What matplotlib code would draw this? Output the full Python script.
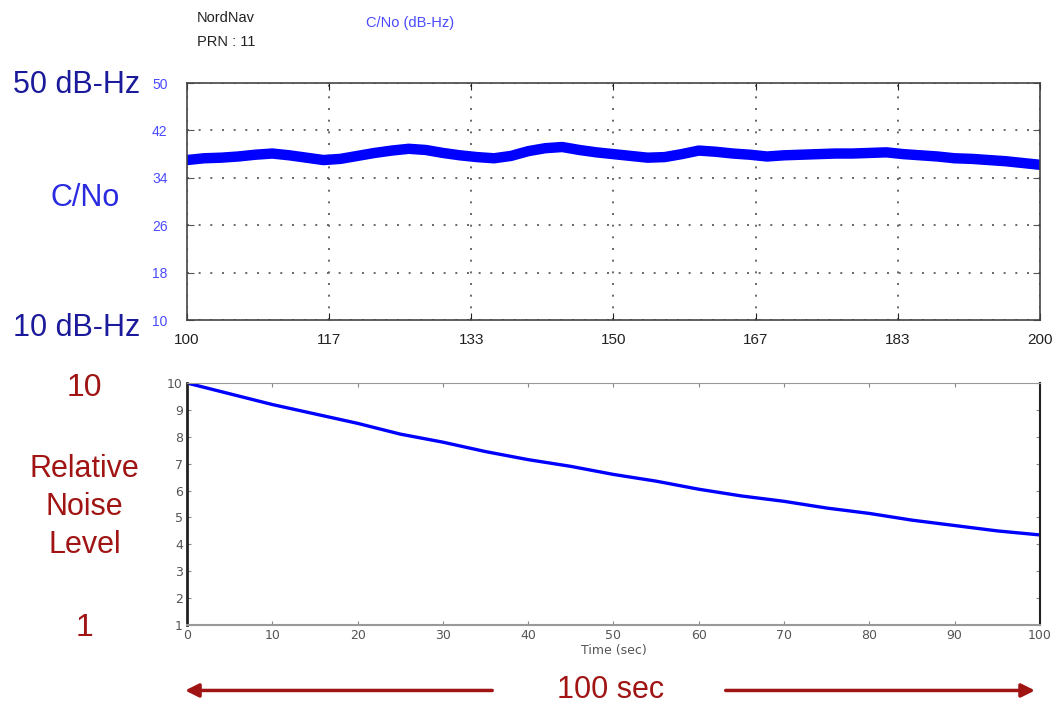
import numpy as np
import matplotlib
matplotlib.use('Agg')
import matplotlib.pyplot as plt

plt.rcParams['font.family'] = ['Liberation Sans', 'DejaVu Sans']

# C/No trace (time in sec, dB-Hz)
cno_time = np.arange(100, 201, 2)
cno_values = [37.0, 37.3, 37.4, 37.6, 37.9, 38.1, 37.8, 37.4, 37.0, 37.2,
              37.7, 38.2, 38.6, 38.9, 38.7, 38.2, 37.8, 37.5, 37.3, 37.7,
              38.5, 39.0, 39.2, 38.7, 38.3, 38.0, 37.7, 37.4, 37.5, 38.0,
              38.6, 38.4, 38.1, 37.9, 37.6, 37.8, 37.9, 38.0, 38.1, 38.1,
              38.2, 38.3, 38.0, 37.8, 37.6, 37.3, 37.2, 37.0, 36.8, 36.5,
              36.2]
cno_ticks = [100, 116.67, 133.33, 150, 166.67, 183.33, 200]
cno_tick_labels = ['100', '117', '133', '150', '167', '183', '200']
cno_yticks = [10, 18, 26, 34, 42, 50]

# relative noise level
noise_time = np.arange(0, 101, 5)
noise_values = [10.0, 9.6, 9.2, 8.85, 8.5, 8.1, 7.8, 7.45, 7.15, 6.9, 6.6,
                6.35, 6.05, 5.8, 5.6, 5.35, 5.15, 4.9, 4.7, 4.5, 4.35]

fig = plt.figure(figsize=(10.6, 7.06), dpi=100)

# ---- top panel ----
ax1 = fig.add_axes([0.1764, 0.5467, 0.8047, 0.3357])
ax1.plot(cno_time, cno_values, color='#0000ff', lw=7.5, solid_capstyle='round')
ax1.set_xlim(100, 200)
ax1.set_ylim(10, 50)
ax1.set_xticks(cno_ticks)
ax1.set_xticklabels(cno_tick_labels)
ax1.set_yticks(cno_yticks)
ax1.grid(True, color='#666666', linestyle=(0, (1, 5)), lw=1.4)
ax1.tick_params(axis='x', direction='in', length=5, labelsize=11, pad=9,
                colors='#222222', top=True)
ax1.tick_params(axis='y', direction='in', length=5, labelsize=10, pad=14,
                colors='#555555', labelcolor='#4a4aff', right=True)
for s in ax1.spines.values():
    s.set_color('#444444')
    s.set_linewidth(1.2)

fig.text(0.186, 0.975, 'NordNav', fontsize=10.5, color='#222222', va='center')
fig.text(0.186, 0.940, 'PRN : 11', fontsize=10.5, color='#222222', va='center')
fig.text(0.345, 0.968, 'C/No (dB-Hz)', fontsize=10.5, color='#4a4aff', va='center')
fig.text(0.072, 0.880, '50 dB-Hz', fontsize=22, color='#1a1a9a', ha='center', va='center')
fig.text(0.072, 0.535, '10 dB-Hz', fontsize=22, color='#1a1a9a', ha='center', va='center')
fig.text(0.080, 0.720, 'C/No', fontsize=22, color='#2a2ae0', ha='center', va='center')

# ---- bottom panel ----
ax2 = fig.add_axes([0.1764, 0.1147, 0.8047, 0.3428])
ax2.plot(noise_time, noise_values, color='#0000ff', lw=2.4)
ax2.set_xlim(0, 100)
ax2.set_ylim(1, 10)
ax2.set_xticks(range(0, 101, 10))
ax2.set_yticks(range(1, 11))
ax2.tick_params(direction='in', length=3, labelsize=9, colors='#888888',
                labelcolor='#555555', top=True, right=True, pad=3)
for lab in ax2.get_xticklabels() + ax2.get_yticklabels():
    lab.set_family('DejaVu Sans')
ax2.set_xlabel('Time (sec)', fontsize=9, color='#555555', labelpad=1,
               family='DejaVu Sans')
ax2.spines['left'].set_color('#222222')
ax2.spines['left'].set_linewidth(2)
ax2.spines['right'].set_color('#222222')
ax2.spines['right'].set_linewidth(1.5)
ax2.spines['top'].set_color('#999999')
ax2.spines['bottom'].set_color('#999999')
ax2.spines['bottom'].set_linewidth(1.5)

red = '#a01414'
fig.text(0.080, 0.450, '10', fontsize=23, color=red, ha='center', va='center')
fig.text(0.080, 0.282, 'Relative\nNoise\nLevel', fontsize=22, color=red,
         ha='center', va='center', linespacing=1.35)
fig.text(0.080, 0.110, '1', fontsize=23, color=red, ha='center', va='center')

# 100 sec span arrows
fig.text(0.576, 0.022, '100 sec', fontsize=22, color=red, ha='center', va='center')
fig.patches.append(matplotlib.patches.FancyArrowPatch(
    (0.467, 0.022), (0.172, 0.022), transform=fig.transFigure,
    arrowstyle='-|>,head_length=8,head_width=4', color=red, lw=2.5))
fig.patches.append(matplotlib.patches.FancyArrowPatch(
    (0.682, 0.022), (0.979, 0.022), transform=fig.transFigure,
    arrowstyle='-|>,head_length=8,head_width=4', color=red, lw=2.5))

fig.savefig('out.png', dpi=100, facecolor='white')
